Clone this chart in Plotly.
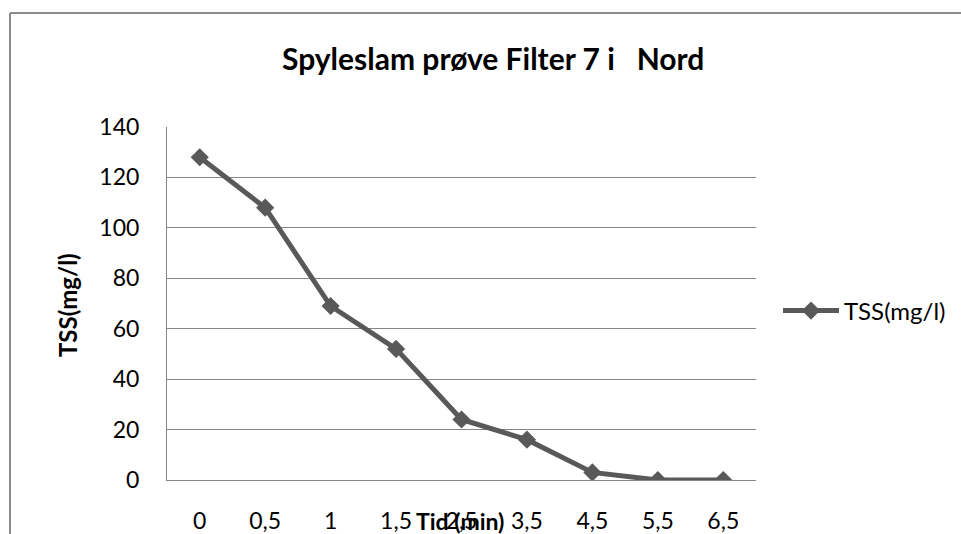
import plotly.graph_objects as go

# Sampling times (min) and measured suspended solids
tid_labels = ["0", "0,5", "1", "1,5", "2,5", "3,5", "4,5", "5,5", "6,5"]
tss_values = [128, 108, 69, 52, 24, 16, 3, 0, 0]
y_ticks = [0, 20, 40, 60, 80, 100, 120, 140]

W, H = 961, 534
L, R, T, B = 167, 205, 127, 54
pw, ph = W - L - R, H - T - B

FONT = "Lato"
GRID = "#868686"
LINE = "#595959"

fig = go.Figure()
fig.add_trace(go.Scatter(
    x=tid_labels, y=tss_values, mode="lines+markers", name="TSS(mg/l)",
    line=dict(color=LINE, width=5),
    marker=dict(symbol="diamond", size=14, color=LINE, line=dict(width=0)),
))

def px_x(px):
    return (px - L) / pw

def px_y(py):
    return (H - B - py) / ph

fig.update_layout(
    width=W, height=H,
    margin=dict(l=L, r=R, t=T, b=B, autoexpand=False),
    paper_bgcolor="white", plot_bgcolor="white",
    font=dict(family=FONT, size=23, color="black"),
    showlegend=True,
    legend=dict(x=px_x(778), y=px_y(311), xanchor="left", yanchor="middle",
                font=dict(family=FONT, size=24, color="black"),
                itemwidth=56, bgcolor="rgba(0,0,0,0)"),
    xaxis=dict(type="category", range=[-0.5, len(tid_labels) - 0.5],
               automargin=False,
               showgrid=False, showline=True, linecolor=GRID, linewidth=1,
               ticks="", ticklabelstandoff=20, tickfont=dict(size=23),
               fixedrange=True),
    yaxis=dict(range=[0, 140], tickvals=y_ticks, showgrid=True,
               automargin=False,
               gridcolor=GRID, gridwidth=1, showline=True, linecolor=GRID,
               linewidth=1, ticks="", ticklabelstandoff=22,
               tickfont=dict(size=23), zeroline=False, fixedrange=True),
    annotations=[
        dict(text="<b>Spyleslam prøve Filter 7 i   Nord</b>", xref="paper",
             yref="paper", x=px_x(493), y=px_y(58), xanchor="center",
             yanchor="middle", showarrow=False, font=dict(size=30)),
        dict(text="<b>Tid (min)</b>", xref="paper", yref="paper",
             x=px_x(460), y=px_y(521), xanchor="center", yanchor="middle",
             showarrow=False, font=dict(size=23)),
        dict(text="<b>TSS(mg/l)</b>", xref="paper", yref="paper",
             x=px_x(67), y=px_y(305), xanchor="center", yanchor="middle",
             textangle=-90, showarrow=False, font=dict(size=24)),
    ],
    shapes=[
        dict(type="line", xref="paper", yref="paper",
             x0=px_x(10), x1=px_x(W + 10), y0=px_y(13), y1=px_y(13),
             line=dict(color="#8c8c8c", width=2), layer="below"),
        dict(type="line", xref="paper", yref="paper",
             x0=px_x(10), x1=px_x(10), y0=px_y(13), y1=px_y(H + 10),
             line=dict(color="#8c8c8c", width=2), layer="below"),
    ],
)

fig.write_html("out.html", config={"displayModeBar": False})
